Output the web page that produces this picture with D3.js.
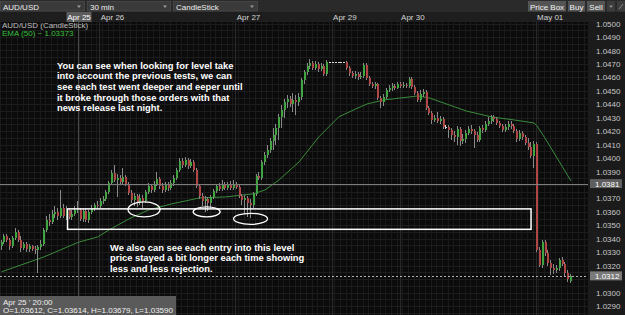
<!DOCTYPE html>
<html>
<head>
<meta charset="utf-8">
<script src="https://cdn.jsdelivr.net/npm/d3@7"></script>
<style>
  html, body { margin: 0; padding: 0; background: #0b0b0b; overflow: hidden; }
  svg { display: block; font-family: "Liberation Sans", Arial, sans-serif; }
</style>
</head>
<body>
<div id="chart"></div>
<script>
// AUD/USD 30 min candles, one array per trading day: [open, high, low, close]
const apr25 = [
  [1.03347,1.03392,1.03318,1.03377],[1.03377,1.03436,1.03362,1.03422],[1.03422,1.03436,1.03377,1.03392],
  [1.03392,1.03407,1.03318,1.03347],[1.03347,1.03422,1.03332,1.03407],[1.03407,1.03481,1.03392,1.03451],
  [1.03451,1.03466,1.03377,1.03392],[1.03392,1.03422,1.03303,1.03332],[1.03332,1.03377,1.03318,1.03362],
  [1.03362,1.03377,1.03303,1.03325],[1.03325,1.03362,1.03303,1.03347],[1.03347,1.03355,1.03310,1.03325],
  [1.03325,1.03347,1.03288,1.03318],[1.03318,1.03355,1.03147,1.03340],[1.03340,1.03392,1.03318,1.03362],
  [1.03362,1.03481,1.03347,1.03466],[1.03466,1.03570,1.03451,1.03540],[1.03540,1.03585,1.03496,1.03526],
  [1.03526,1.03615,1.03511,1.03585],[1.03585,1.03644,1.03555,1.03600],[1.03600,1.03630,1.03540,1.03570],
  [1.03570,1.03763,1.03555,1.03630],[1.03630,1.03659,1.03555,1.03570],[1.03570,1.03644,1.03540,1.03615],
  [1.03615,1.03630,1.03548,1.03563],[1.03563,1.03615,1.03540,1.03585],[1.03585,1.03644,1.03570,1.03612],
  [1.03612,1.03679,1.03590,1.03614],[1.03614,1.03630,1.03533,1.03548],[1.03548,1.03622,1.03526,1.03607],
  [1.03607,1.03622,1.03526,1.03540],[1.03540,1.03615,1.03518,1.03600],[1.03600,1.03652,1.03585,1.03630],
  [1.03630,1.03667,1.03607,1.03652],[1.03652,1.03682,1.03622,1.03644]
];
const apr26 = [
  [1.03644,1.03704,1.03630,1.03682],[1.03682,1.03719,1.03659,1.03696],[1.03696,1.03763,1.03682,1.03748],
  [1.03748,1.03830,1.03734,1.03815],[1.03815,1.03912,1.03800,1.03890],[1.03890,1.03949,1.03823,1.03838],
  [1.03838,1.03882,1.03711,1.03852],[1.03852,1.03875,1.03800,1.03823],[1.03823,1.03927,1.03808,1.03860],
  [1.03860,1.03875,1.03793,1.03808],[1.03808,1.03823,1.03726,1.03741],[1.03741,1.03763,1.03667,1.03689],
  [1.03689,1.03741,1.03644,1.03719],[1.03719,1.03734,1.03637,1.03674],[1.03674,1.03734,1.03652,1.03704],
  [1.03704,1.03726,1.03630,1.03682],[1.03682,1.03763,1.03667,1.03748],[1.03748,1.03815,1.03734,1.03793],
  [1.03793,1.03808,1.03741,1.03763],[1.03763,1.03830,1.03748,1.03808],[1.03808,1.03897,1.03793,1.03845],
  [1.03845,1.03860,1.03771,1.03793],[1.03793,1.03815,1.03741,1.03763],[1.03763,1.03823,1.03748,1.03800],
  [1.03800,1.03823,1.03756,1.03778],[1.03778,1.03838,1.03763,1.03815],[1.03815,1.03875,1.03793,1.03852],
  [1.03852,1.03927,1.03838,1.03912],[1.03912,1.04001,1.03897,1.03979],[1.03979,1.04001,1.03927,1.03949],
  [1.03949,1.04009,1.03934,1.03986],[1.03986,1.04001,1.03919,1.03942],[1.03942,1.03994,1.03927,1.03971],
  [1.03971,1.03986,1.03897,1.03912],[1.03912,1.03927,1.03778,1.03793],[1.03793,1.03808,1.03696,1.03719],
  [1.03719,1.03741,1.03644,1.03682],[1.03682,1.03719,1.03600,1.03696],[1.03696,1.03711,1.03607,1.03667],
  [1.03667,1.03726,1.03630,1.03711],[1.03711,1.03771,1.03696,1.03756],[1.03756,1.03808,1.03741,1.03793],
  [1.03793,1.03815,1.03756,1.03771],[1.03771,1.03838,1.03756,1.03808],[1.03808,1.03823,1.03763,1.03778],
  [1.03778,1.03823,1.03763,1.03800],[1.03800,1.03830,1.03763,1.03778],[1.03778,1.03838,1.03763,1.03808]
];
const apr27 = [
  [1.03808,1.03823,1.03771,1.03786],[1.03786,1.03800,1.03704,1.03719],[1.03719,1.03734,1.03652,1.03689],
  [1.03689,1.03726,1.03585,1.03704],[1.03704,1.03719,1.03563,1.03667],[1.03667,1.03696,1.03555,1.03652],
  [1.03652,1.03748,1.03630,1.03734],[1.03734,1.03882,1.03719,1.03867],[1.03867,1.03897,1.03838,1.03852],
  [1.03852,1.03986,1.03838,1.03971],[1.03971,1.04046,1.03949,1.04023],[1.04023,1.04098,1.04001,1.04061],
  [1.04061,1.04150,1.04038,1.04127],[1.04127,1.04224,1.04061,1.04172],[1.04172,1.04254,1.04098,1.04224],
  [1.04224,1.04328,1.04135,1.04306],[1.04306,1.04395,1.04224,1.04358],[1.04358,1.04439,1.04298,1.04417],
  [1.04417,1.04469,1.04373,1.04439],[1.04439,1.04462,1.04380,1.04402],[1.04402,1.04484,1.04343,1.04432],
  [1.04432,1.04469,1.04321,1.04417],[1.04417,1.04484,1.04387,1.04454],[1.04454,1.04595,1.04432,1.04581],
  [1.04581,1.04655,1.04551,1.04640],[1.04640,1.04707,1.04618,1.04685],[1.04685,1.04737,1.04662,1.04707],
  [1.04707,1.04722,1.04655,1.04670],[1.04670,1.04722,1.04655,1.04700],[1.04700,1.04714,1.04640,1.04662],
  [1.04662,1.04707,1.04647,1.04685],[1.04685,1.04700,1.04610,1.04625],[1.04625,1.04729,1.04610,1.04714],
  [1.04714,1.04714,1.04714,1.04714]
];
const apr29 = [
  [1.04714,1.04714,1.04714,1.04714],[1.04714,1.04714,1.04714,1.04714],[1.04714,1.04714,1.04714,1.04714],
  [1.04714,1.04714,1.04714,1.04714],[1.04714,1.04714,1.04714,1.04714],[1.04714,1.04722,1.04655,1.04670],
  [1.04670,1.04685,1.04610,1.04633],[1.04633,1.04647,1.04595,1.04610],[1.04610,1.04647,1.04588,1.04625],
  [1.04625,1.04640,1.04581,1.04603],[1.04603,1.04640,1.04588,1.04610],[1.04610,1.04707,1.04595,1.04692],
  [1.04692,1.04707,1.04581,1.04595],[1.04595,1.04610,1.04536,1.04551],[1.04551,1.04566,1.04521,1.04536],
  [1.04536,1.04566,1.04514,1.04551],[1.04551,1.04558,1.04432,1.04447],[1.04447,1.04462,1.04373,1.04417],
  [1.04417,1.04477,1.04387,1.04454],[1.04454,1.04521,1.04439,1.04506],[1.04506,1.04543,1.04491,1.04521],
  [1.04521,1.04558,1.04499,1.04536],[1.04536,1.04551,1.04506,1.04521],[1.04521,1.04566,1.04514,1.04551]
];
const apr30 = [
  [1.04551,1.04566,1.04521,1.04536],[1.04536,1.04566,1.04521,1.04543],[1.04543,1.04558,1.04521,1.04536],
  [1.04536,1.04603,1.04521,1.04588],[1.04588,1.04603,1.04514,1.04529],[1.04529,1.04543,1.04469,1.04484],
  [1.04484,1.04499,1.04417,1.04432],[1.04432,1.04506,1.04417,1.04477],[1.04477,1.04514,1.04454,1.04491],
  [1.04491,1.04506,1.04358,1.04373],[1.04373,1.04387,1.04321,1.04335],[1.04335,1.04350,1.04254,1.04283],
  [1.04283,1.04321,1.04269,1.04298],[1.04298,1.04343,1.04261,1.04276],[1.04276,1.04313,1.04254,1.04291],
  [1.04291,1.04306,1.04217,1.04231],[1.04231,1.04246,1.04217,1.04231],[1.04231,1.04246,1.04150,1.04209],
  [1.04209,1.04224,1.04135,1.04172],[1.04172,1.04202,1.04120,1.04157],[1.04157,1.04239,1.04098,1.04217],
  [1.04217,1.04231,1.04090,1.04127],[1.04127,1.04179,1.04105,1.04142],[1.04142,1.04209,1.04113,1.04187],
  [1.04187,1.04239,1.04172,1.04217],[1.04217,1.04246,1.04179,1.04202],[1.04202,1.04217,1.04075,1.04172],
  [1.04172,1.04194,1.04120,1.04135],[1.04135,1.04239,1.04120,1.04224],[1.04224,1.04246,1.04187,1.04209],
  [1.04209,1.04276,1.04194,1.04254],[1.04254,1.04306,1.04239,1.04276],[1.04276,1.04321,1.04254,1.04306],
  [1.04306,1.04321,1.04269,1.04291],[1.04291,1.04306,1.04246,1.04261],[1.04261,1.04276,1.04224,1.04239],
  [1.04239,1.04254,1.04194,1.04209],[1.04209,1.04254,1.04194,1.04231],[1.04231,1.04276,1.04209,1.04254],
  [1.04254,1.04276,1.04217,1.04239],[1.04239,1.04254,1.04187,1.04202],[1.04202,1.04217,1.04120,1.04142],
  [1.04142,1.04209,1.04127,1.04187],[1.04187,1.04202,1.04135,1.04157],[1.04157,1.04172,1.04098,1.04113],
  [1.04113,1.04150,1.04061,1.04083],[1.04083,1.04120,1.04001,1.04016],[1.04016,1.04127,1.03927,1.04105]
];
const may01 = [
  [1.04105,1.04120,1.03303,1.03318],[1.03318,1.03340,1.03191,1.03206],[1.03206,1.03392,1.03184,1.03377],
  [1.03377,1.03392,1.03273,1.03295],[1.03295,1.03318,1.03199,1.03221],[1.03221,1.03243,1.03132,1.03184],
  [1.03184,1.03213,1.03139,1.03169],[1.03169,1.03206,1.03147,1.03184],[1.03184,1.03258,1.03161,1.03243],
  [1.03243,1.03265,1.03199,1.03213],[1.03213,1.03228,1.03124,1.03147],[1.03147,1.03169,1.03080,1.03102],
  [1.03087,1.03139,1.03072,1.03124]
];
const dayLabels = ["Apr 25", "Apr 26", "Apr 27", "Apr 29", "Apr 30", "May 01"];
const days = [apr25, apr26, apr27, apr29, apr30, may01];

// EMA (50): [candle index, value]
const emaPoints = [
  [0,1.03154],[10,1.03228],[15,1.03265],[27,1.03373],[34,1.03414],[38,1.03466],[45,1.03548],
  [52,1.03615],[60,1.03659],[70,1.03704],[79,1.03711],[89,1.03734],[93,1.03763],[98,1.03838],
  [105,1.03971],[112,1.04157],[119,1.04306],[125,1.04365],[129,1.04402],[135,1.04432],[141,1.04447],
  [147,1.04462],[151,1.04447],[158,1.04395],[164,1.04350],[173,1.04306],[181,1.04283],[188,1.04261],
  [189,1.04239],[192,1.04142],[195,1.04038],[198,1.03934],[201,1.03830]
];

const priceTicks = [1.0290,1.0300,1.0310,1.0320,1.0330,1.0340,1.0350,1.0360,1.0370,1.0380,1.0390,
  1.0400,1.0410,1.0420,1.0430,1.0440,1.0450,1.0460,1.0470,1.0480,1.0490,1.0500];

// crosshair: candle Apr 25 20:00 and price level
const crossIndex = 27;
const crossPrice = 1.0381;

// the support zone and the three tests of it
const zone = {from: 23.3, to: 186.9, top: 1.03622, bottom: 1.03470};
const tests = [[50.3, 1.03618, 16, 7.5], [72.4, 1.03600, 13.5, 5], [87.9, 1.03548, 17, 5.5]];

const noteTop = ["You can see when looking for level take", "into account the previous tests, we can",
  "see each test went deeper and eeper until", "it broke through those orders with that",
  "news release last night."];
const noteBottom = ["We also can see each entry into this level", "price stayed a bit longer each time showing",
  "less and less rejection."];

const candles = days.flat();
const dayStarts = [];
days.reduce((n, d) => { dayStarts.push(n); return n + d.length; }, 0);

const W = 625, H = 315;
const plotRight = 588, plotTop = 22;
const upColor = "#40a540", downColor = "#b04646";

const svg = d3.select("#chart").append("svg").attr("width", W).attr("height", H);

const x = d3.scaleLinear().domain([0, candles.length - 1]).range([1.5, 571]);
const y = d3.scaleLinear().domain([1.0290, 1.0490]).range([306, 37]);
const step = x(1) - x(0);

svg.append("rect").attr("width", W).attr("height", H).attr("fill", "#0b0b0b");

svg.append("defs").append("clipPath").attr("id", "plotclip")
  .append("rect").attr("x", 0).attr("y", plotTop).attr("width", plotRight).attr("height", H - plotTop);

const plot = svg.append("g").attr("clip-path", "url(#plotclip)");

// faint grid
plot.append("g").selectAll("line")
  .data(d3.range(0, candles.length + 6, 2))
  .join("line")
  .attr("x1", i => Math.round(x(i) - step / 2) + 0.5)
  .attr("x2", i => Math.round(x(i) - step / 2) + 0.5)
  .attr("y1", plotTop).attr("y2", H)
  .attr("stroke", "#1a1a1a");
plot.append("g").selectAll("line")
  .data(d3.range(0, 46).map(k => 1.0280 + k * 0.0005))
  .join("line")
  .attr("x1", 0).attr("x2", plotRight)
  .attr("y1", v => Math.round(y(v)) + 0.5)
  .attr("y2", v => Math.round(y(v)) + 0.5)
  .attr("stroke", "#1c1c1c");

// day separators
plot.append("g").selectAll("line")
  .data(dayStarts.slice(1))
  .join("line")
  .attr("x1", i => Math.round(x(i) - step / 2) + 0.5)
  .attr("x2", i => Math.round(x(i) - step / 2) + 0.5)
  .attr("y1", plotTop).attr("y2", H)
  .attr("stroke", "#2a2a2a");

// EMA line
plot.append("path")
  .datum(emaPoints)
  .attr("fill", "none")
  .attr("stroke", "#3a8c3a")
  .attr("stroke-width", 1)
  .attr("d", d3.line().x(d => x(d[0])).y(d => y(d[1])));

// candles
const cg = plot.append("g").attr("shape-rendering", "crispEdges");
const bx = i => Math.round(x(i) - 1);

cg.selectAll("rect.wick")
  .data(candles)
  .join("rect")
  .attr("class", "wick")
  .attr("x", (d, i) => bx(i))
  .attr("width", 1)
  .attr("y", d => y(d[1]))
  .attr("height", d => Math.max(1, y(d[2]) - y(d[1])))
  .attr("fill", d => d[0] === d[3] ? "#d8d8d8" : "#8a8a8a");

cg.selectAll("rect.body")
  .data(candles)
  .join("rect")
  .attr("class", "body")
  .attr("x", (d, i) => bx(i))
  .attr("width", 2)
  .attr("y", d => y(Math.max(d[0], d[3])))
  .attr("height", d => Math.max(1, Math.abs(y(d[0]) - y(d[3]))))
  .attr("fill", d => d[3] > d[0] ? upColor : d[3] < d[0] ? downColor : "#d8d8d8");

// crosshair and last price line
const lastClose = candles[candles.length - 1][3];
plot.append("line")
  .attr("x1", 0).attr("x2", plotRight)
  .attr("y1", Math.round(y(crossPrice)) + 0.5).attr("y2", Math.round(y(crossPrice)) + 0.5)
  .attr("stroke", "#7c7c7c");
plot.append("line")
  .attr("x1", Math.round(x(crossIndex)) + 0.5).attr("x2", Math.round(x(crossIndex)) + 0.5)
  .attr("y1", plotTop).attr("y2", H)
  .attr("stroke", "#4a4a4a");
plot.append("line")
  .attr("x1", 0).attr("x2", plotRight)
  .attr("y1", Math.round(y(lastClose)) + 0.5).attr("y2", Math.round(y(lastClose)) + 0.5)
  .attr("stroke", "#b0b0b0")
  .attr("stroke-dasharray", "2,2");

// annotation: zone and test ellipses
svg.append("rect")
  .attr("x", x(zone.from)).attr("y", y(zone.top))
  .attr("width", x(zone.to) - x(zone.from))
  .attr("height", y(zone.bottom) - y(zone.top))
  .attr("fill", "none").attr("stroke", "#ffffff").attr("stroke-width", 1.5);

svg.append("g").selectAll("ellipse")
  .data(tests)
  .join("ellipse")
  .attr("cx", d => x(d[0])).attr("cy", d => y(d[1]))
  .attr("rx", d => d[2]).attr("ry", d => d[3])
  .attr("fill", "none").attr("stroke", "#ffffff").attr("stroke-width", 1.3);

function note(lines, left, firstBaseline) {
  svg.append("text")
    .attr("x", left).attr("y", firstBaseline)
    .attr("fill", "#ffffff")
    .style("font-size", "9.4px").style("font-weight", "bold")
    .selectAll("tspan")
    .data(lines)
    .join("tspan")
    .attr("x", left)
    .attr("dy", (d, i) => i === 0 ? 0 : 10.7)
    .text(d => d);
}
note(noteTop, 57, 68.5);
note(noteBottom, 110, 250.5);

// legend
svg.append("text").attr("x", 2).attr("y", 28).attr("fill", "#bdbdbd")
  .style("font-size", "8px").text("AUD/USD (CandleStick)");
svg.append("text").attr("x", 2).attr("y", 36).attr("fill", "#35c035")
  .style("font-size", "8px").text("EMA (50) ~ 1.03373");

// tooltip
svg.append("rect").attr("x", 0).attr("y", 296).attr("width", 176).attr("height", 19)
  .attr("fill", "#5a5a5a");
svg.append("text").attr("x", 3).attr("y", 305).attr("fill", "#f0f0f0")
  .style("font-size", "8px").text("Apr 25 ' 20:00");
const ohlc = candles[crossIndex];
svg.append("text").attr("x", 3).attr("y", 312.5).attr("fill", "#f0f0f0")
  .style("font-size", "8px")
  .text(`O=${ohlc[0].toFixed(5)}, C=${ohlc[3].toFixed(5)}, H=${ohlc[1].toFixed(5)}, L=${ohlc[2].toFixed(5)}`);

// price axis; ticks hidden under the highlighted price boxes are left out
const marked = [[crossPrice, "#5f5f5f"], [lastClose, "#7a7a7a"]];
const shownTicks = priceTicks.filter(t => marked.every(([v]) => Math.abs(y(t) - y(v)) > 5));

svg.append("rect").attr("x", plotRight).attr("y", plotTop).attr("width", W - plotRight).attr("height", H - plotTop)
  .attr("fill", "#1b1b1b");
const yAxis = svg.append("g")
  .attr("transform", `translate(${plotRight},0)`)
  .call(d3.axisRight(y).tickValues(shownTicks).tickFormat(d3.format(".4f")).tickSize(0).tickPadding(8));
yAxis.select(".domain").remove();
yAxis.selectAll("text").attr("fill", "#c8c8c8").style("font-size", "8px")
  .style("font-family", "'Liberation Sans', Arial, sans-serif");

marked.forEach(([v, c]) => {
  svg.append("rect").attr("x", plotRight + 2).attr("y", y(v) - 4.5).attr("width", 32).attr("height", 9)
    .attr("fill", c);
  svg.append("text").attr("x", plotRight + 7).attr("y", y(v) + 3).attr("fill", "#ffffff")
    .style("font-size", "8px").text(v.toFixed(4));
});

// time axis row
svg.append("rect").attr("x", 0).attr("y", 12).attr("width", W).attr("height", 10).attr("fill", "#1e1e1e");
svg.append("g").selectAll("text")
  .data(dayLabels.slice(1))
  .join("text")
  .attr("x", (d, i) => x(dayStarts[i + 1]) - step / 2 + 1.5)
  .attr("y", 20)
  .attr("fill", "#d4d4d4")
  .style("font-size", "8px")
  .text(d => d);
svg.append("rect").attr("x", x(crossIndex) - 11.5).attr("y", 12).attr("width", 25).attr("height", 10)
  .attr("fill", "#5c5c5c");
svg.append("text").attr("x", x(crossIndex) + 1).attr("y", 20).attr("text-anchor", "middle")
  .attr("fill", "#ffffff").style("font-size", "8px").text(dayLabels[0]);

// toolbar
svg.append("rect").attr("width", W).attr("height", 12).attr("fill", "#2a2a2a");
const combos = [["AUD/USD", 0, 84], ["30 min", 87, 170], ["CandleStick", 173, 257]];
combos.forEach(([label, a, b]) => {
  svg.append("rect").attr("x", a + 0.5).attr("y", 1.5).attr("width", b - a).attr("height", 9.5)
    .attr("fill", "#3a3a3a").attr("stroke", "#505050").attr("stroke-width", 0.6);
  svg.append("text").attr("x", a + 3).attr("y", 9.5).attr("fill", "#eeeeee")
    .style("font-size", "8px").text(label);
  svg.append("path").attr("d", `M${b - 7},5.5 L${b - 3},5.5 L${b - 5},8 Z`).attr("fill", "#9a9a9a");
});
const buttons = [["Price Box", 528, 566], ["Buy", 568, 585], ["Sell", 587, 605]];
buttons.forEach(([label, a, b]) => {
  svg.append("rect").attr("x", a).attr("y", 1).attr("width", b - a).attr("height", 10.5).attr("fill", "#545454");
  svg.append("text").attr("x", (a + b) / 2).attr("y", 9.5).attr("text-anchor", "middle")
    .attr("fill", "#f4f4f4").style("font-size", "8px").text(label);
});
svg.append("rect").attr("x", 607).attr("y", 1).attr("width", 8).attr("height", 10.5).attr("fill", "#3c3c3c");
svg.append("path").attr("d", "M609,5.5 L613,5.5 L611,8 Z").attr("fill", "#8a8a8a");
svg.append("rect").attr("x", 617).attr("y", 1).attr("width", 8).attr("height", 10.5).attr("fill", "#3c3c3c");
svg.append("path").attr("d", "M619,9 L623,4").attr("stroke", "#8a8a8a").attr("stroke-width", 1);
</script>
</body>
</html>
